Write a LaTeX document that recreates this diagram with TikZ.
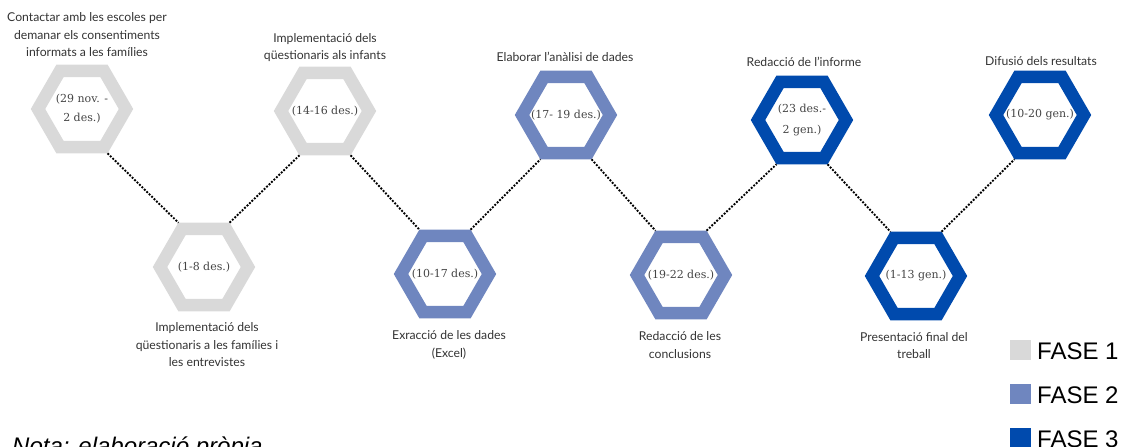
\documentclass[tikz,border=0pt]{standalone}
\usepackage{fontspec}
\setmainfont{Lato}
\newfontfamily\datefont{DejaVu Serif}
\newfontfamily\legfont{Liberation Sans}
\usetikzlibrary{shapes.geometric}
\definecolor{faseA}{HTML}{D9D9D9}
\definecolor{faseB}{HTML}{6F86BF}
\definecolor{faseC}{HTML}{004AAD}
\definecolor{txt}{HTML}{333333}
\definecolor{datec}{HTML}{444444}
\begin{document}
\begin{tikzpicture}[x=1pt,y=-1pt,
  hexa/.style={regular polygon, regular polygon sides=6, minimum size=88pt,
    inner sep=0pt, line width=12.5pt, draw=#1},
  datetx/.style={font=\datefont\fontsize{11}{19}\selectfont, text=datec, align=center, inner sep=0pt},
  lbl/.style={font=\fontsize{12.2}{17.5}\selectfont, text=txt, align=center, inner sep=0pt},
  conn/.style={line width=1.9pt, dash pattern=on 1.9pt off 1.5pt, black},
  legsq/.style={fill=#1, minimum width=21pt, minimum height=20pt, inner sep=0pt, anchor=north west},
  legtx/.style={font=\legfont\fontsize{24}{24}\selectfont, anchor=base west, inner sep=0pt, text=black},
]
\useasboundingbox (0,0) rectangle (1127,447);

% hexagons
\node[hexa=faseA] (h1) at (82,109) {};
\node[hexa=faseA] (h2) at (204,267) {};
\node[hexa=faseA] (h3) at (325,111) {};
\node[hexa=faseB] (h4) at (445,274) {};
\node[hexa=faseB] (h5) at (566,115) {};
\node[hexa=faseB] (h6) at (681,275) {};
\node[hexa=faseC] (h7) at (802,120) {};
\node[hexa=faseC] (h8) at (1040,115) {};
\node[hexa=faseC] (h9) at (916,276) {};

% dates
\node[datetx] (d1) at (h1.center) {(29 nov. -\\ 2 des.)};
\node[datetx] (d2) at (h2.center) {(1-8 des.)};
\node[datetx] (d3) at (h3.center) {(14-16 des.)};
\node[datetx] (d4) at (h4.center) {(10-17 des.)};
\node[datetx] (d5) at (h5.center) {(17- 19 des.)};
\node[datetx] (d6) at (h6.center) {(19-22 des.)};
\node[datetx, font=\datefont\fontsize{11}{21}\selectfont] (d7) at (h7.center) {(23 des.-\\2 gen.)};
\node[datetx] (d8) at (h8.center) {(10-20 gen.)};
\node[datetx] (d9) at (h9.center) {(1-13 gen.)};

% connectors
\draw[conn] (h1.-60) -- (h2.120);
\draw[conn] (h2.60) -- (h3.-120);
\draw[conn] (h3.-60) -- (h4.120);
\draw[conn] (h4.60) -- (h5.-120);
\draw[conn] (h5.-60) -- (h6.120);
\draw[conn] (h6.60) -- (h7.-120);
\draw[conn] (h7.-60) -- (h9.120);
\draw[conn] (h9.60) -- (h8.-120);

% labels
\node[lbl] (l1) at (87,35) {Contactar amb les escoles per\\demanar els consentiments\\informats a les famílies};
\node[lbl] (l3) at (325,47.5) {Implementació dels\\qüestionaris als infants};
\node[lbl] (l5) at (565,57) {Elaborar l'anàlisi de dades};
\node[lbl] (l7) at (804,62) {Redacció de l'informe};
\node[lbl] (l8) at (1041,61) {Difusió dels resultats};
\node[lbl] (l2) at (207,345) {Implementació dels\\qüestionaris a les famílies i\\les entrevistes};
\node[lbl] (l4) at (449,345) {Exracció de les dades\\(Excel)};
\node[lbl] (l6) at (680,345) {Redacció de les\\conclusions};
\node[lbl] (l9) at (914,345.5) {Presentació final del\\treball};

% legend
\node[legsq=faseA] (s1) at (1010,340) {};
\node[legsq=faseB] (s2) at (1010,384) {};
\node[legsq=faseC] (s3) at (1010,428) {};
\node[legtx] (f1) at (1037,359) {FASE 1};
\node[legtx] (f2) at (1037,403) {FASE 2};
\node[legtx] (f3) at (1037,447) {FASE 3};

% note
\node[font=\legfont\itshape\fontsize{24}{24}\selectfont, anchor=base west, inner sep=0pt, text=black] (nota) at (12,454) {Nota: elaboració pròpia};
\end{tikzpicture}
\end{document}
